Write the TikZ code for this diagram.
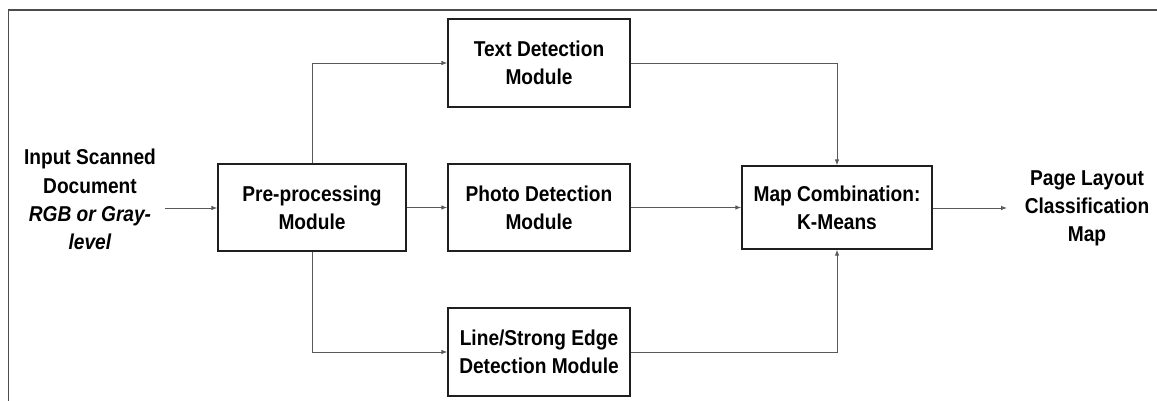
\documentclass[tikz,border=0pt]{standalone}
\usepackage{fontspec}
\setmainfont{Liberation Sans}[FakeStretch=0.89]
\usetikzlibrary{arrows.meta}
\begin{document}
\begin{tikzpicture}[x=1pt,y=-1pt,
  txt/.style={align=center,inner sep=0pt,font=\bfseries\fontsize{21.5}{28.3}\selectfont},
  box/.style={txt,draw=black!88,line width=1.3pt},
  conn/.style={draw=black!65,line width=0.9pt,-{Latex[length=6pt,width=4.5pt]}},
  frame/.style={draw=black!70,line width=1.4pt}]
\useasboundingbox (0,0) rectangle (1157,400);
\draw[frame] (8.5,410) -- (8.5,10) -- (1170,10);
\node[box,minimum width=188pt,minimum height=87pt] (pre) at (312,207.5) {Pre-processing\\Module};
\node[box,minimum width=182pt,minimum height=88pt] (text) at (539,63) {Text Detection\\Module};
\node[box,minimum width=182pt,minimum height=87pt] (photo) at (539,207.5) {Photo Detection\\Module};
\node[box,minimum width=182pt,minimum height=88pt] (line) at (539,352) {Line/Strong Edge\\Detection Module};
\node[box,minimum width=190pt,minimum height=83pt] (map) at (837,207.5) {Map Combination:\\K-Means};
\node[txt] (in) at (90,199.5) {Input Scanned\\Document\\\textit{RGB or Gray-}\\\textit{level}};
\node[txt] (out) at (1087,208.5) {Page Layout\\Classification\\Map};
\coordinate (inend) at (165,208);
\coordinate (outend) at (1007,208);
\draw[conn] (inend) -- (pre.west |- inend);
\draw[conn] (pre.east |- photo.west) -- (photo.west);
\draw[conn] (pre.north) |- (text.west);
\draw[conn] (pre.south) |- (line.west);
\draw[conn] (photo.east) -- (map.west |- photo.east);
\draw[conn] (text.east) -| (map.north);
\draw[conn] (line.east) -| (map.south);
\draw[conn] (map.east |- outend) -- (outend);
\end{tikzpicture}
\end{document}
